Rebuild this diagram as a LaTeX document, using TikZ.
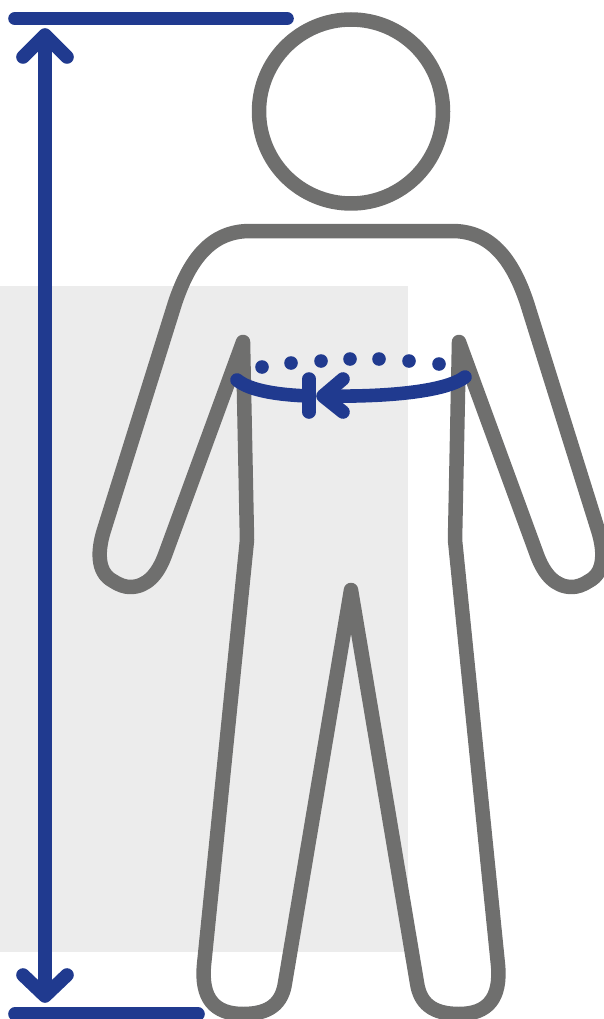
\documentclass[tikz,border=0pt]{standalone}
\definecolor{bodygray}{HTML}{6F6F6E}
\definecolor{measureblue}{HTML}{203A8F}
\definecolor{panelgray}{HTML}{ECECEC}
\tikzset{
  bodyline/.style={draw=bodygray,line width=14.5pt,line join=round,line cap=round},
  measureline/.style={draw=measureblue,line width=13.6pt,line join=round,line cap=round},
  dotmark/.style={fill=measureblue,draw=none}
}
\begin{document}
\begin{tikzpicture}[x=1pt,y=-1pt]
\useasboundingbox (0,0) rectangle (603,1019);
\fill[panelgray] (0,286) rectangle (408,952);
% head
\draw[bodyline] (351,111.5) circle (92);
% body
\draw[bodyline] (351,231) -- (250,231)
  .. controls (212,231) and (190,258) .. (175,303)
  -- (104,530)
  .. controls (98,549) and (96,572) .. (113,581)
  .. controls (119,585) and (125,587) .. (130,587)
  .. controls (147,587) and (158,574) .. (165,555)
  -- (243,342) -- (247,540) -- (204,965)
  .. controls (201,998) and (214,1014) .. (243,1014)
  .. controls (270,1014) and (282,1003) .. (285,983)
  -- (351,590)
  -- (417,983)
  .. controls (420,1003) and (432,1014) .. (459,1014)
  .. controls (488,1014) and (501,998) .. (498,965)
  -- (455,540) -- (459,342) -- (537,555)
  .. controls (544,574) and (555,587) .. (572,587)
  .. controls (577,587) and (583,585) .. (589,581)
  .. controls (606,572) and (604,549) .. (598,530)
  -- (527,303)
  .. controls (512,258) and (490,231) .. (452,231) -- cycle;
% height measure
\draw[measureline] (15,18.6) -- (287,18.6);
\draw[measureline] (15,1014) -- (198,1014);
\draw[measureline] (45,38) -- (45,992);
\draw[measureline] (23,57) -- (45,35) -- (67,57);
\draw[measureline] (23,975) -- (45,996) -- (67,975);
% waist measure
\draw[measureline] (237,380) .. controls (250,391) and (280,395) .. (309,396);
\draw[measureline] (309,379) -- (309,412);
\draw[measureline] (465,377) .. controls (445,392) and (385,397) .. (325,396);
\draw[measureline] (343,379) -- (323,396) -- (343,412);
% dots
\foreach \px/\py in {262/367,291/363,321/361,350/359,379/359,409/361,439/364}
  \fill[dotmark] (\px,\py) circle (6.8);
\end{tikzpicture}
\end{document}
